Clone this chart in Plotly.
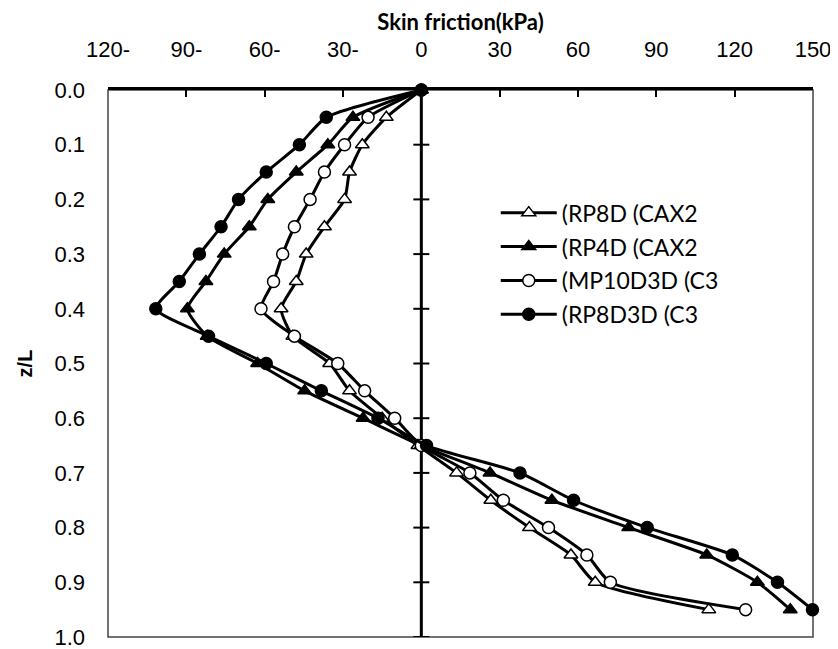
import plotly.graph_objects as go

# ---- data ----
z_over_L = [0.00, 0.05, 0.10, 0.15, 0.20, 0.25, 0.30, 0.35, 0.40, 0.45,
            0.50, 0.55, 0.60, 0.65, 0.70, 0.75, 0.80, 0.85, 0.90, 0.95]

rp8d_cax2 = [0, -13.4, -22.6, -27.5, -29.4, -37.1, -44.1, -47.9, -53.7, -49.2,
             -35.1, -27.5, -15.0, -1.3, 13.5, 26.6, 41.4, 57.3, 66.6, 110.1]
rp4d_cax2 = [0, -26.2, -35.8, -47.9, -58.8, -65.9, -75.5, -82.5, -89.6, -82.0,
             -62.7, -44.7, -22.3, 0.0, 26.3, 50.0, 79.4, 109.3, 128.7, 141.3]
mp10d3d_c3 = [0, -20.4, -29.4, -37.1, -42.6, -48.6, -53.1, -56.6, -61.4, -48.6,
              -32.0, -21.7, -10.2, 0.0, 18.6, 31.4, 48.7, 63.4, 72.4, 124.2]
rp8d3d_c3 = [0, -36.4, -46.7, -59.4, -70.0, -76.7, -85.0, -92.7, -101.7, -81.5,
             -59.4, -38.3, -16.6, 2.0, 37.8, 58.3, 86.5, 119.1, 136.4, 149.8]

series_names = ["(RP8D (CAX2", "(RP4D (CAX2", "(MP10D3D (C3", "(RP8D3D (C3"]

x_tickvals = [-120, -90, -60, -30, 0, 30, 60, 90, 120, 150]
x_ticktext = ["120-", "90-", "60-", "30-", "0", "30", "60", "90", "120", "150"]
y_tickvals = [0.0, 0.1, 0.2, 0.3, 0.4, 0.5, 0.6, 0.7, 0.8, 0.9, 1.0]
y_ticktext = ["0.0", "0.1", "0.2", "0.3", "0.4", "0.5", "0.6", "0.7", "0.8", "0.9", "1.0"]

# ---- styles ----
styles = [
    dict(symbol="triangle-up", color="white"),
    dict(symbol="triangle-up", color="black"),
    dict(symbol="circle", color="white"),
    dict(symbol="circle", color="black"),
]
values = [rp8d_cax2, rp4d_cax2, mp10d3d_c3, rp8d3d_c3]

fig = go.Figure()
for name, vals, st in zip(series_names, values, styles):
    fig.add_trace(go.Scatter(
        x=vals, y=z_over_L, name=name, mode="lines+markers",
        legendgroup=name, cliponaxis=False,
        line=dict(color="black", width=3, shape="spline", smoothing=0.6),
        marker=dict(symbol=st["symbol"], color=st["color"], size=12,
                    line=dict(color="black", width=1.5)),
    ))

# plot-area border (thin)
fig.add_shape(type="rect", xref="x domain", yref="y domain", x0=0, x1=1, y0=0, y1=1,
              line=dict(color="#444", width=1.5), layer="below")
# vertical value axis at x = 0 with cross ticks
fig.add_shape(type="line", xref="x", yref="y domain", x0=0, x1=0, y0=0, y1=1,
              line=dict(color="black", width=3), layer="below")
for yv in y_tickvals[1:]:
    fig.add_shape(type="line", xref="x", yref="y", xsizemode="pixel", xanchor=0,
                  x0=-8, x1=8, y0=yv, y1=yv,
                  line=dict(color="black", width=2), layer="below")

fig.update_layout(
    width=822, height=641,
    margin=dict(l=100, r=17, t=82, b=12, autoexpand=False),
    paper_bgcolor="white", plot_bgcolor="white",
    showlegend=True,
    legend=dict(x=0.55, y=0.815, xanchor="left", yanchor="top",
                font=dict(family="Lato, Open Sans, sans-serif", size=23, color="black"),
                itemwidth=56, tracegroupgap=1, bgcolor="rgba(0,0,0,0)"),
    xaxis=dict(
        side="top", range=[-120, 150], tickmode="array", automargin=False,
        tickvals=x_tickvals, ticktext=x_ticktext, ticklabeloverflow="allow",
        ticks="inside", ticklen=7, tickwidth=2, tickcolor="black",
        showline=True, linewidth=2.5, linecolor="black",
        showgrid=False, zeroline=False, ticklabelstandoff=21,
        tickfont=dict(family="Liberation Sans, Arial, sans-serif", size=22, color="black"),
        title=dict(text="<b>Skin friction(kPa)</b>", standoff=6,
                   font=dict(family="Lato, Open Sans, sans-serif", size=22, color="black")),
    ),
    yaxis=dict(
        range=[1.0, 0.0], tickmode="array", automargin=False,
        tickvals=y_tickvals, ticktext=y_ticktext, ticklabeloverflow="allow",
        ticks="", showline=False, showgrid=False, zeroline=False,
        ticklabelstandoff=22,
        tickfont=dict(family="Liberation Sans, Arial, sans-serif", size=22, color="black"),
        title=dict(text="<b>z/L</b>", standoff=16,
                   font=dict(family="Liberation Sans, Arial, sans-serif", size=20, color="black")),
    ),
)

fig.write_html("out.html")
